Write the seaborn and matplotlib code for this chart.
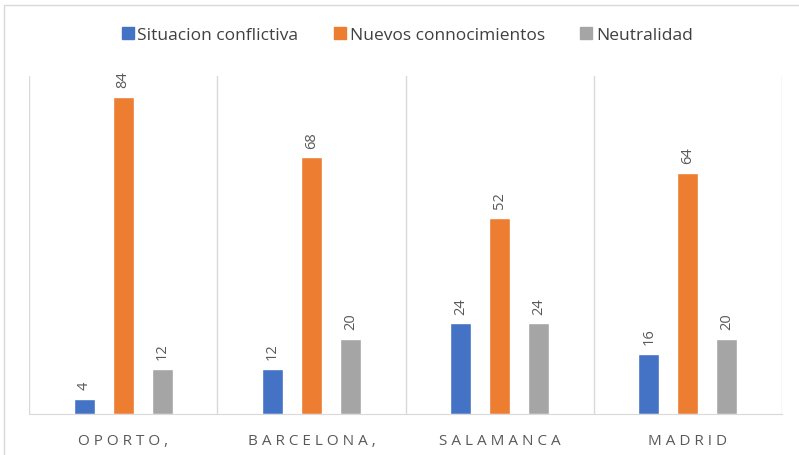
import pandas as pd
import matplotlib
matplotlib.use('Agg')
import matplotlib.pyplot as plt
from matplotlib.lines import Line2D
import seaborn as sns

CITIES = ['OPORTO,', 'BARCELONA,', 'SALAMANCA', 'MADRID']
SERIES = ['Situacion conflictiva', 'Nuevos connocimientos', 'Neutralidad']
CONFLICTO = [4, 12, 24, 16]
NUEVOS = [84, 68, 52, 64]
NEUTRAL = [12, 20, 24, 20]
COLORS = ['#4472C4', '#ED7D31', '#A5A5A5']

sns.set_style('white')
plt.rcParams['font.family'] = ['Open Sans', 'DejaVu Sans']

df = pd.DataFrame({
    'city': CITIES * 3,
    'serie': [SERIES[0]] * 4 + [SERIES[1]] * 4 + [SERIES[2]] * 4,
    'valor': CONFLICTO + NUEVOS + NEUTRAL,
})

fig = plt.figure(figsize=(7.99, 4.56), dpi=100)
ax = fig.add_axes([29 / 799, 1 - 415 / 456, 753 / 799, 338 / 456])

sns.barplot(data=df, x='city', y='valor', hue='serie', palette=COLORS,
            width=0.62, gap=0.46, ax=ax, legend=False, saturation=1)

for cont in ax.containers:
    ax.bar_label(cont, padding=7, rotation=90, fontsize=10.5, color='#595959')

ax.set_ylim(0, 89.6)
ax.set_xlim(-0.5, 3.5)
ax.set_yticks([])
ax.set_xlabel('')
ax.set_ylabel('')
ax.set_xticks(range(len(CITIES)))
ax.set_xticklabels([' '.join(c) for c in CITIES], fontsize=11, color='#595959')
ax.tick_params(axis='x', length=0, pad=14)
for s in ['top', 'right', 'left']:
    ax.spines[s].set_visible(False)
ax.spines['bottom'].set_color('#D9D9D9')
for xb in [-0.5, 0.5, 1.5, 2.5, 3.5]:
    ax.axvline(xb, color='#D9D9D9', lw=1, zorder=0)

handles = [Line2D([], [], marker='s', ls='', color=c, markersize=8.5) for c in COLORS]
fig.legend(handles, SERIES, loc='center', bbox_to_anchor=(0.508, 0.922), ncol=3,
           frameon=False, fontsize=12.5, handletextpad=0.05, columnspacing=1.9,
           labelcolor='#404040', handlelength=1)

# outer frame
fig.add_artist(Line2D([4 / 799, 4 / 799], [0, 1 - 6 / 456], color='#D9D9D9', lw=1,
                      transform=fig.transFigure))
fig.add_artist(Line2D([4 / 799, 1], [1 - 6 / 456, 1 - 6 / 456], color='#D9D9D9', lw=1,
                      transform=fig.transFigure))

fig.savefig('out.png', dpi=100, facecolor='white')
